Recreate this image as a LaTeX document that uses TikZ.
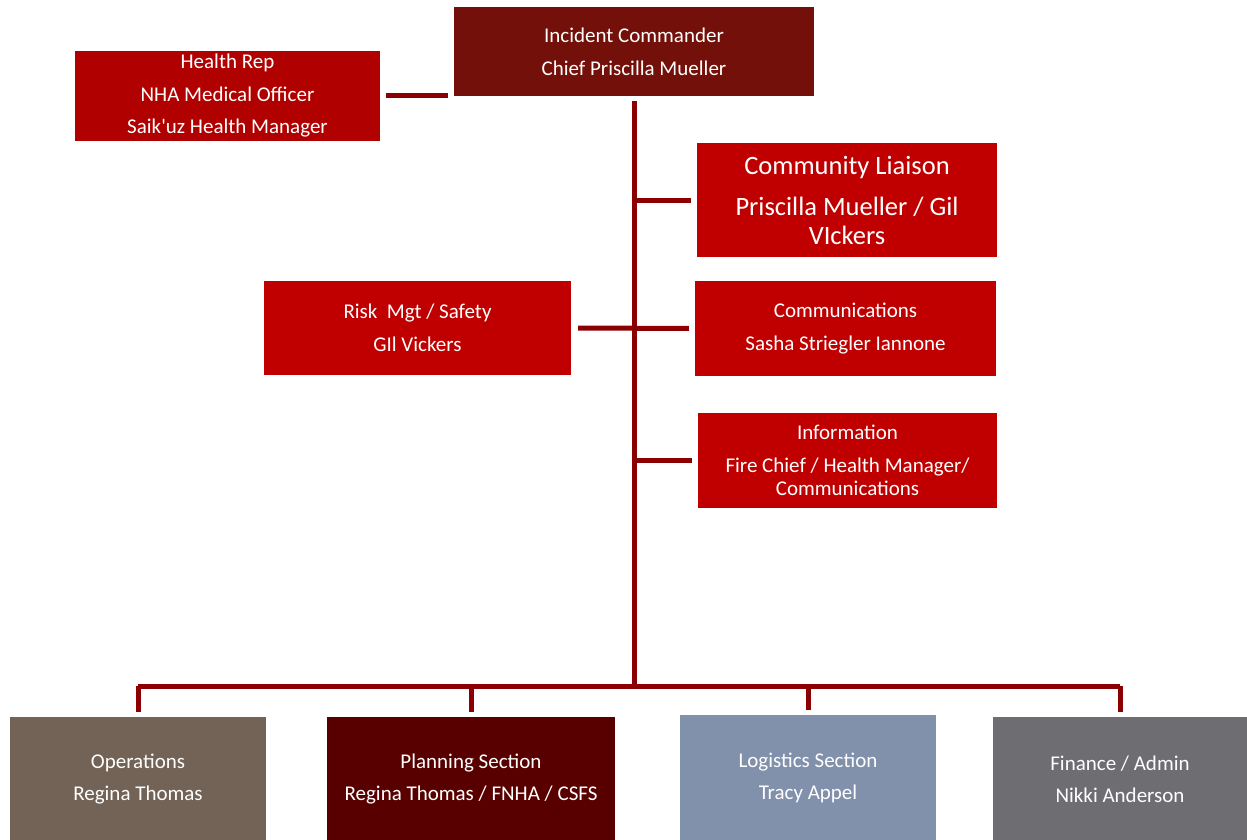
\documentclass[tikz,border=0pt]{standalone}
\usepackage{fontspec}
\setmainfont{Carlito}
\usetikzlibrary{positioning}

\definecolor{cmdred}{RGB}{115,16,9}
\definecolor{healthred}{RGB}{176,0,0}
\definecolor{staffred}{RGB}{192,0,0}
\definecolor{linered}{RGB}{139,0,0}
\definecolor{opsbrown}{RGB}{115,99,87}
\definecolor{planmaroon}{RGB}{88,0,0}
\definecolor{logiblue}{RGB}{129,144,171}
\definecolor{fingrey}{RGB}{109,109,114}

\begin{document}
\begin{tikzpicture}[x=1pt, y=-1pt, font=\fontsize{21}{23}\selectfont]
    \tikzstyle{box}=[fill=staffred, text=white, align=center, inner sep=0pt]
    \tikzstyle{conn}=[draw=linered, line width=5pt]
    \useasboundingbox (0,0) rectangle (1247,840);

    % command and general staff
    \node[box, fill=cmdred, minimum width=360pt, minimum height=89pt] (cmd) at (634,51.5) {Incident Commander\\[10pt]Chief Priscilla Mueller};
    \node[box, fill=healthred, minimum width=305pt, minimum height=90pt] (health) at (227.5,96) {Health Rep\\[9.5pt]NHA Medical Officer\\[9.5pt]Saik\textquotesingle uz Health Manager};
    \node[box, minimum width=300pt, minimum height=114pt, font=\fontsize{26.5}{29}\selectfont] (liaison) at (847,200) {Community Liaison\\[12pt]Priscilla Mueller / Gil\\VIckers};
    \node[box, minimum width=307pt, minimum height=94pt] (risk) at (417.5,328) {Risk\ \ Mgt / Safety\\[10pt]GIl Vickers};
    \node[box, minimum width=301pt, minimum height=95pt] (comms) at (845.5,328.5) {Communications\\[10pt]Sasha Striegler Iannone};
    \node[box, minimum width=299pt, minimum height=95pt] (info) at (847.5,460.5) {Information\\[10pt]Fire Chief / Health Manager/\\Communications};

    % sections
    \node[box, fill=opsbrown, minimum width=256pt, minimum height=124pt] (ops) at (138,779) {Operations\\[9pt]Regina Thomas};
    \node[box, fill=planmaroon, minimum width=288pt, minimum height=124pt] (plan) at (471,779) {Planning Section\\[9pt]Regina Thomas / FNHA / CSFS};
    \node[box, fill=logiblue, minimum width=256pt, minimum height=126pt] (logi) at (808,778) {Logistics Section\\[9pt]Tracy Appel};
    \node[box, fill=fingrey, minimum width=254pt, minimum height=124pt] (fin) at (1120,779) {Finance / Admin\\[9pt]Nikki Anderson};

    \coordinate (bus) at (634,686);

    \draw[conn, shorten <=6pt, shorten >=6pt] (health.east) -- (health.east -| cmd.west);
    \draw[conn, shorten <=5pt] (cmd.south) -- (bus);
    \draw[conn, shorten >=6pt] (cmd.south |- liaison.west) -- (liaison.west);
    \draw[conn, shorten <=7pt, shorten >=6pt] (risk.east) -- (comms.west);
    \draw[conn, shorten >=6pt] (cmd.south |- info.west) -- (info.west);

    \draw[conn] (bus -| ops.north) -- (bus -| fin.north);
    \foreach \sec in {ops, plan, logi, fin}
        \draw[conn, shorten >=5pt] (bus -| \sec.north) -- (\sec.north);
\end{tikzpicture}
\end{document}
